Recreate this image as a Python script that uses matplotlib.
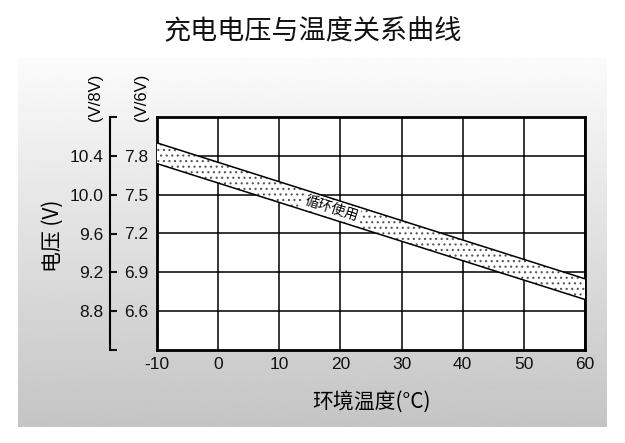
import numpy as np
import matplotlib
matplotlib.use('Agg')
import matplotlib.pyplot as plt

plt.rcParams['font.family'] = ['Liberation Sans', 'Noto Sans CJK SC']
plt.rcParams['hatch.linewidth'] = 0.8

# Data
temp = [-10, 60]                 # ambient temperature (°C)
upper_6v = [7.90, 6.85]          # upper edge of the charge band (6V battery)
lower_6v = [7.74, 6.69]          # lower edge of the charge band (6V battery)
x_ticks = [-10, 0, 10, 20, 30, 40, 50, 60]
y_ticks_6v = [6.6, 6.9, 7.2, 7.5, 7.8]
y_ticks_8v = [8.8, 9.2, 9.6, 10.0, 10.4]
band_label = '循环使用'
title = '充电电压与温度关系曲线'

W, H = 625, 443
fig = plt.figure(figsize=(W / 100, H / 100), dpi=100)
fig.patch.set_facecolor('white')

# gray gradient panel behind the chart
bg = fig.add_axes([18 / W, (H - 427) / H, (607 - 18) / W, (427 - 57) / H], zorder=-5)
grad = np.linspace(0.985, 0.77, 256).reshape(-1, 1)
bg.imshow(grad, aspect='auto', cmap='gray', vmin=0, vmax=1, extent=[0, 1, 0, 1])
bg.set_axis_off()

fig.text(0.5, 1 - 32 / H, title, ha='center', va='center', fontsize=19.5,
         family=['Noto Sans CJK SC'], color='#111111')

# main plot box
box = [157 / W, (H - 350) / H, (585 - 157) / W, (350 - 117) / H]
ax = fig.add_axes(box)
ax.set_facecolor('white')
ax.set_xlim(-10, 60)
ax.set_ylim(6.3, 8.1)
ax.set_xticks(x_ticks)
ax.set_xticklabels([str(t) for t in x_ticks])
ax.set_yticks(y_ticks_6v)
ax.set_yticklabels(['%.1f' % v for v in y_ticks_6v])
ax.tick_params(axis='both', length=0, labelsize=12.5, colors='#111111')
ax.tick_params(axis='x', pad=5)
ax.tick_params(axis='y', pad=6)
ax.grid(True, color='black', linewidth=1.1)
ax.set_axisbelow(True)
for s in ax.spines.values():
    s.set_linewidth(2)
    s.set_color('black')

# band
ax.fill_between(temp, lower_6v, upper_6v, facecolor='white', edgecolor='#555555',
                hatch='...', linewidth=0, zorder=3)
ax.plot(temp, upper_6v, color='black', linewidth=1.1, zorder=4)
ax.plot(temp, lower_6v, color='black', linewidth=1.1, zorder=4)

tx = 18.5
ty = (np.interp(tx, temp, upper_6v) + np.interp(tx, temp, lower_6v)) / 2
p0 = ax.transData.transform((temp[0], upper_6v[0]))
p1 = ax.transData.transform((temp[1], upper_6v[1]))
ang = np.degrees(np.arctan2(p1[1] - p0[1], p1[0] - p0[0]))
ax.text(tx, ty, band_label, rotation=ang, rotation_mode='anchor', ha='center', va='center',
        fontsize=10, family=['Noto Sans CJK SC'], zorder=5,
        bbox=dict(facecolor='white', edgecolor='none', pad=1.2))

# outer 8V axis
ax8 = fig.add_axes(box)
ax8.patch.set_visible(False)
ax8.set_ylim(8.4, 10.8)
ax8.set_xticks([])
for k in ['top', 'right', 'bottom']:
    ax8.spines[k].set_visible(False)
ax8.spines['left'].set_position(('outward', 47 * 0.72))
ax8.spines['left'].set_linewidth(1.5)
ax8.set_yticks([8.4] + y_ticks_8v + [10.8])
ax8.set_yticklabels([''] + ['%.1f' % v for v in y_ticks_8v] + [''])
ax8.tick_params(axis='y', direction='in', length=5, width=1.5, labelsize=12.5,
                pad=5, colors='#111111')

fig.text(95 / W, 1 - 97 / H, '(V/8V)', rotation=90, ha='center', va='center', fontsize=12)
fig.text(142 / W, 1 - 97 / H, '(V/6V)', rotation=90, ha='center', va='center', fontsize=12)
fig.text(53 / W, 1 - 236 / H, '电压 (V)', rotation=90, ha='center', va='center', fontsize=15,
         family=['Noto Sans CJK SC'])
fig.text(371 / W, 1 - 402 / H, '环境温度(°C)', ha='center', va='center', fontsize=15,
         family=['Noto Sans CJK SC'])

fig.savefig('out.png', dpi=100)
